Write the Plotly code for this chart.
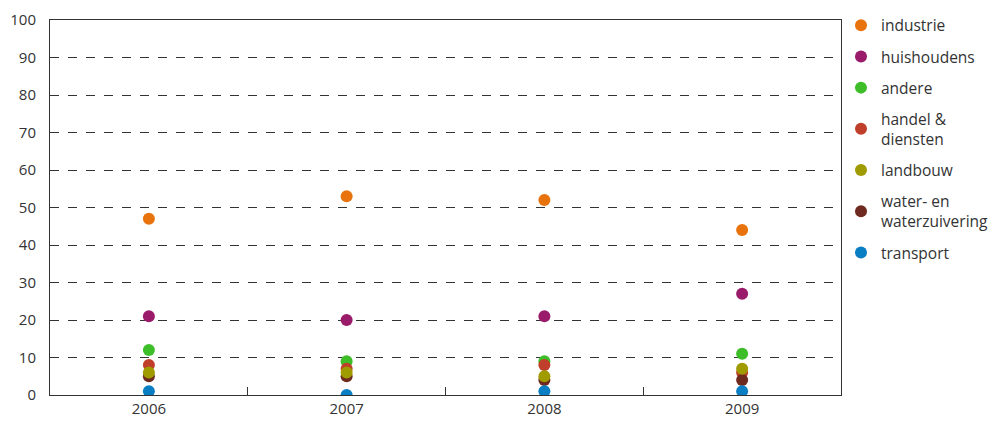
import plotly.graph_objects as go

years = ["2006", "2007", "2008", "2009"]
series_names = ["industrie", "huishoudens", "andere", "handel &<br>diensten",
                "landbouw", "water- en<br>waterzuivering", "transport"]
industrie = [47, 53, 52, 44]
huishoudens = [21, 20, 21, 27]
andere = [12, 9, 9, 11]
handel = [8, 7, 8, 6]
landbouw = [6, 6, 5, 7]
water = [5, 5, 4, 4]
transport = [1, 0, 1, 1]
y_ticks = [0, 10, 20, 30, 40, 50, 60, 70, 80, 90, 100]

values = [industrie, huishoudens, andere, handel, landbouw, water, transport]
colors = ["#E8730C", "#9B1B6B", "#3DBE29", "#BF3F2A", "#A09B00", "#6E2A1F", "#0A7EC2"]
draw_order = [0, 1, 2, 3, 5, 4, 6]

fig = go.Figure()
for i in draw_order:
    fig.add_trace(go.Scatter(
        x=years, y=values[i], mode="markers", name=series_names[i],
        marker=dict(color=colors[i], size=12, line=dict(width=0)),
        legendrank=i + 1, legendgroup="g%d" % i,
    ))

fig.update_layout(
    width=1001, height=413,
    margin=dict(l=42, r=168, t=12, b=26, autoexpand=False),
    paper_bgcolor="white", plot_bgcolor="white",
    font=dict(family="Open Sans", color="#333333", size=14),
    showlegend=True,
    legend=dict(x=1.0, xanchor="left", y=1.03, yanchor="top",
                font=dict(size=15.5, color="#333333"),
                tracegroupgap=8, itemsizing="constant", maxheight=1,
                bgcolor="rgba(0,0,0,0)"),
    xaxis=dict(type="category", range=[-0.5, 3.5], showgrid=False,
               showline=True, linecolor="#333333", linewidth=1, mirror=True,
               ticks="inside", tickson="boundaries", ticklen=8,
               tickcolor="#333333", tickfont=dict(size=15, color="#333333"),
               automargin=False, fixedrange=True),
    yaxis=dict(range=[0, 100], tickvals=y_ticks, showgrid=True,
               gridcolor="#333333", griddash="dash", gridwidth=1,
               showline=True, linecolor="#333333", linewidth=1, mirror=True,
               zeroline=False, ticks="", ticklabelstandoff=10,
               tickfont=dict(size=15, color="#333333"),
               automargin=False, fixedrange=True),
)

fig.write_html("out.html")
